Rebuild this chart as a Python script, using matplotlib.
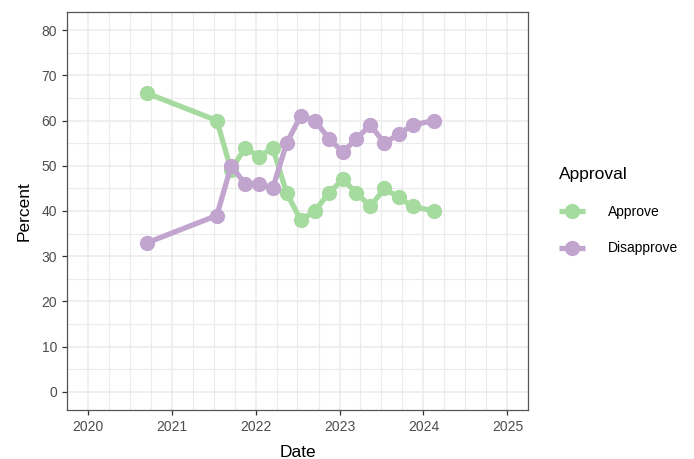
import datetime as dt
import matplotlib
matplotlib.use('Agg')
import matplotlib.pyplot as plt
import matplotlib.dates as mdates

plt.rcParams['font.family'] = ['Liberation Sans', 'DejaVu Sans']

# survey dates (year, month)
dates = [(2020, 9), (2021, 7), (2021, 9), (2021, 11), (2022, 1), (2022, 3),
         (2022, 5), (2022, 7), (2022, 9), (2022, 11), (2023, 1), (2023, 3),
         (2023, 5), (2023, 7), (2023, 9), (2023, 11), (2024, 2)]
approve = [66, 60, 49, 54, 52, 54, 44, 38, 40, 44, 47, 44, 41, 45, 43, 41, 40]
disapprove = [33, 39, 50, 46, 46, 45, 55, 61, 60, 56, 53, 56, 59, 55, 57, 59, 60]
series = ['Approve', 'Disapprove']
colors = ['#a6dba0', '#c2a5cf']

x = [dt.date(y, m, 15) for y, m in dates]

fig = plt.figure(figsize=(6.94, 4.59), dpi=100)
ax = fig.add_axes([0.0965, 0.1068, 0.6645, 0.8671])

for name, vals, col in zip(series, [approve, disapprove], colors):
    ax.plot(x, vals, color=col, lw=3.8, marker='o', ms=10, label=name,
            solid_capstyle='butt')

ax.set_xlim(dt.date(2019, 10, 1), dt.date(2025, 4, 1))
ax.set_ylim(-4, 84)
ax.xaxis.set_major_locator(mdates.YearLocator())
ax.xaxis.set_major_formatter(mdates.DateFormatter('%Y'))
ax.xaxis.set_minor_locator(mdates.MonthLocator(bymonth=[4, 7, 10]))
ax.set_yticks(range(0, 81, 10))
ax.set_yticks(range(5, 80, 10), minor=True)

ax.grid(True, which='major', color='#ebebeb', lw=1.1)
ax.grid(True, which='minor', color='#ebebeb', lw=0.8)
ax.set_axisbelow(True)
for s in ax.spines.values():
    s.set_color('#555555')
    s.set_linewidth(0.9)
ax.tick_params(which='major', colors='#333333', labelcolor='#4d4d4d',
               labelsize=10, length=3.5, width=0.9)
ax.tick_params(which='minor', length=0)

ax.set_xlabel('Date', fontsize=12.5, labelpad=8)
ax.set_ylabel('Percent', fontsize=12.5, labelpad=7)

leg = ax.legend(title='Approval', loc='center left', bbox_to_anchor=(1.04, 0.5),
                frameon=False, fontsize=10, title_fontsize=12.5,
                handlelength=1.9, labelspacing=1.6, handletextpad=1.6)
leg._legend_box.align = 'left'
leg._legend_box.sep = 17

fig.savefig('out.png', dpi=100)
